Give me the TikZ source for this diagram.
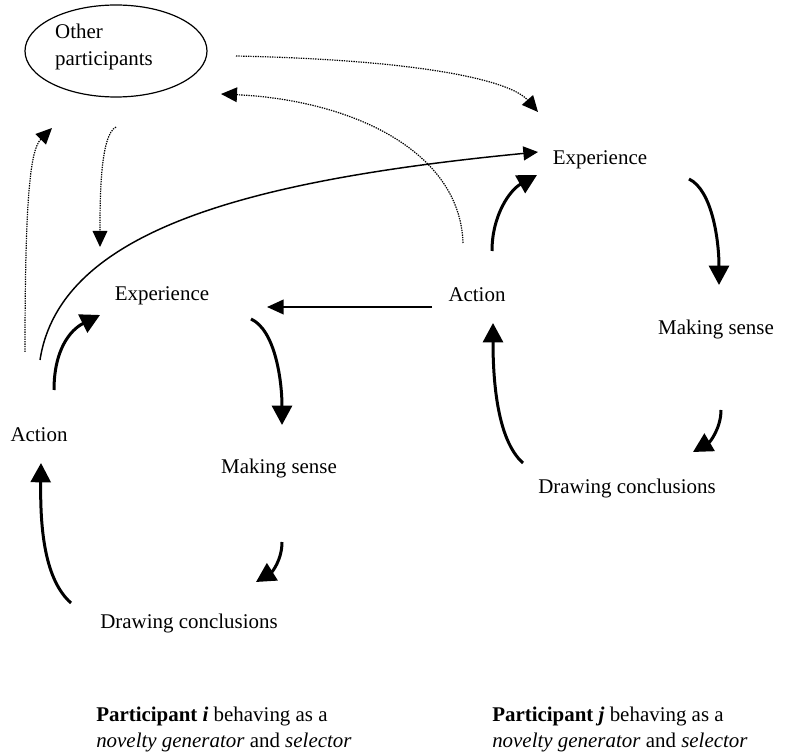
\documentclass[tikz,border=0pt]{standalone}
\usepackage{fontspec}
\setmainfont{Liberation Serif}
\usetikzlibrary{arrows.meta,shapes.geometric}
\begin{document}
\begin{tikzpicture}[x=0.75pt,y=-0.75pt,
  lbl/.style={inner sep=0pt,font=\fontsize{15.7}{19}\selectfont},
  cyc/.style={line width=2.25pt,-{Triangle[length=14.5pt,width=15pt]}},
  link/.style={line width=1.1pt,-{Triangle[length=11pt,width=10.5pt]}},
  straight/.style={line width=1.5pt,-{Triangle[length=12.5pt,width=11pt]}},
  dots/.style={line width=0.9pt,dash pattern=on 1pt off 0.8pt,-{Triangle[length=12pt,width=11pt]}}]
\useasboundingbox (0,0) rectangle (800,755);

% other participants
\node[draw,ellipse,line width=0.9pt,minimum width=136.5pt,minimum height=69pt,inner sep=0pt] (op) at (116,51) {};
\node[lbl,align=left,font=\fontsize{15.7}{20}\selectfont] (optxt) at (104,47) {Other\\participants};

% left cycle labels
\node[lbl] (expL) at (162,296) {Experience};
\node[lbl] (actL) at (39,435) {Action};
\node[lbl] (msL) at (279,468) {Making sense};
\node[lbl] (dcL) at (189,623) {Drawing conclusions};

% right cycle labels
\node[lbl] (actR) at (477,295) {Action};
\node[lbl] (expR) at (600,160) {Experience};
\node[lbl] (msR) at (716,329) {Making sense};
\node[lbl] (dcR) at (627,488) {Drawing conclusions};

% captions
\node[lbl,align=left,anchor=base west] (capL) at (96,747)
  {\textbf{Participant \textit{i}} behaving as a\\\textit{novelty generator} and \textit{selector}};
\node[lbl,align=left,anchor=base west] (capR) at (492,747)
  {\textbf{Participant \textit{j}} behaving as a\\\textit{novelty generator} and \textit{selector}};

% endpoints
\coordinate (a1) at (54,390);   \coordinate (a2) at (100,315);
\coordinate (b1) at (251,319);  \coordinate (b2) at (282,425);
\coordinate (c1) at (282,542);  \coordinate (c2) at (256,582);
\coordinate (d1) at (71,603);   \coordinate (d2) at (41,463);
\coordinate (e1) at (492,251);  \coordinate (e2) at (537,175);
\coordinate (f1) at (689,179);  \coordinate (f2) at (719,285);
\coordinate (g1) at (721,410);  \coordinate (g2) at (693,452);
\coordinate (h1) at (523,463);  \coordinate (h2) at (493,323);
\coordinate (s1) at (432,307);  \coordinate (s2) at (267,307);
\coordinate (l1) at (40,360);   \coordinate (l2) at (538,152);
\coordinate (p1) at (236,56);   \coordinate (p2) at (538,112);
\coordinate (q1) at (463,243);  \coordinate (q2) at (221,94);
\coordinate (r1) at (116,127);  \coordinate (r2) at (100,247);
\coordinate (t1) at (25,352);   \coordinate (t2) at (52,128);

% left cycle
\draw[cyc] (a1) .. controls (54,350) and (70,330) .. (a2);
\draw[cyc] (b1) .. controls (275,330) and (282,380) .. (b2);
\draw[cyc] (c1) .. controls (282,560) and (272,572) .. (c2);
\draw[cyc] (d1) .. controls (45,580) and (40,530) .. (d2);

% right cycle
\draw[cyc] (e1) .. controls (492,215) and (510,190) .. (e2);
\draw[cyc] (f1) .. controls (712,190) and (719,240) .. (f2);
\draw[cyc] (g1) .. controls (721,428) and (710,442) .. (g2);
\draw[cyc] (h1) .. controls (497,440) and (493,380) .. (h2);

% links
\draw[straight] (s1) -- (s2);
\draw[link] (l1) .. controls (60,230) and (250,180) .. (l2);

% dotted
\draw[dots] (p1) .. controls (420,60) and (510,80) .. (p2);
\draw[dots] (q1) .. controls (460,150) and (350,100) .. (q2);
\draw[dots] (r1) .. controls (100,135) and (100,200) .. (r2);
\draw[dots] (t1) .. controls (25,200) and (30,150) .. (t2);
\end{tikzpicture}
\end{document}
